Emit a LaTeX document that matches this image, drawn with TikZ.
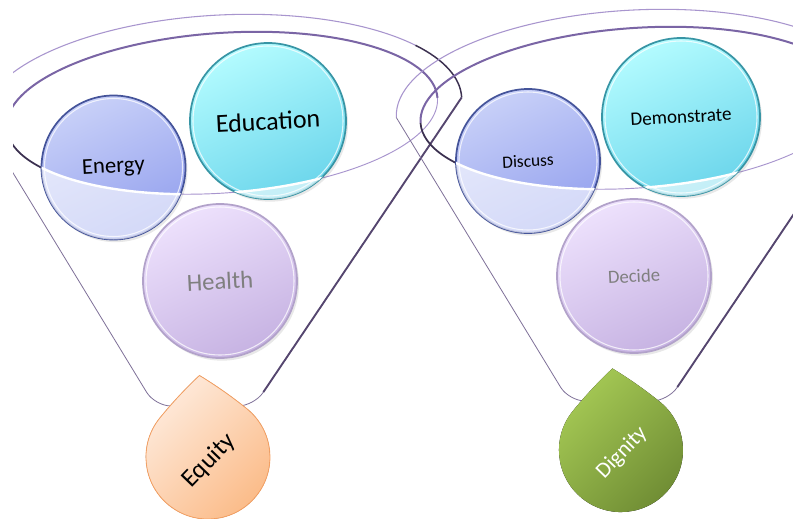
\documentclass[tikz,border=0pt]{standalone}
\usepackage{fontspec}
\setmainfont{Carlito}
\usetikzlibrary{calc,shadows}
\definecolor{rimlight}{HTML}{A895CE}
\definecolor{rimmid}{HTML}{7A65A5}
\definecolor{rimdark}{HTML}{3B3050}
\definecolor{conelt}{HTML}{7E7098}
\definecolor{conedk}{HTML}{55466F}
\definecolor{bluetop}{HTML}{C9D1F8}
\definecolor{bluebot}{HTML}{93A0EE}
\definecolor{blueedge}{HTML}{45549A}
\definecolor{cyantop}{HTML}{B4FCFF}
\definecolor{cyanbot}{HTML}{6BD5EB}
\definecolor{cyanedge}{HTML}{3895A5}
\definecolor{lavtop}{HTML}{EEE2FD}
\definecolor{lavbot}{HTML}{C6B2E2}
\definecolor{lavedge}{HTML}{B2A2CA}
\definecolor{greytext}{HTML}{7F7F7F}
\definecolor{ortop}{HTML}{FEEBDD}
\definecolor{orbot}{HTML}{FBBA86}
\definecolor{oredge}{HTML}{F5A062}
\definecolor{grtop}{HTML}{A6CA55}
\definecolor{grbot}{HTML}{6E8B33}
\tikzset{
  outerrim/.style={draw=rimlight, line width=0.8pt},
  outerdark/.style={draw=rimdark, line width=1.1pt},
  innerrim/.style={draw=rimmid, line width=1.5pt},
  innerlow/.style={draw=rimlight, line width=0.7pt},
  innerlowdark/.style={draw=rimdark, line width=1.3pt},
  conethin/.style={draw=conelt, line width=0.6pt},
  conethick/.style={draw=conedk, line width=1.4pt},
  ball/.style={circle, inner sep=0pt, line width=1.3pt, rotate=3,
    drop shadow={opacity=0.18, shadow xshift=1.5pt, shadow yshift=-2pt}},
  blueball/.style={ball, draw=blueedge, top color=bluetop, bottom color=bluebot, shading angle=25},
  cyanball/.style={ball, draw=cyanedge, top color=cyantop, bottom color=cyanbot, shading angle=25},
  lavball/.style={ball, draw=lavedge, top color=lavtop, bottom color=lavbot, shading angle=25, text=greytext},
  ballring/.style={draw=white, opacity=0.75, line width=0.8pt},
  droptext/.style={rotate=46, inner sep=0pt}
}
% funnel line art, drawn in the left funnel's coordinates
\newcommand{\funnelart}[1]{%
  \begin{scope}[rotate around={3:(222,110)}]
    \coordinate (#1ol) at (-18,110);
    \coordinate (#1or) at (462,110);
    \draw[outerrim] (#1ol) arc[start angle=180, end angle=325, x radius=240, y radius=95] coordinate (#1od);
    \draw[outerdark] (#1od) arc[start angle=325, end angle=360, x radius=240, y radius=95];
  \end{scope}
  \coordinate (#1bl) at (155,406);
  \coordinate (#1br) at (254,406);
  \draw[conethin, rounded corners=12pt] (#1ol) -- (#1bl) -- (#1br) -- (#1or);
  \draw[conethick] ($(#1br)!0.045!(#1or)$) -- (#1or);
  \begin{scope}[rotate around={4:(222,113)}]
    \coordinate (#1ml) at (6,113);
    \draw[innerrim] (#1ml) arc[start angle=180, end angle=360, x radius=216, y radius=80];
    \draw[innerlowdark] (#1ml) arc[start angle=180, end angle=128, x radius=216, y radius=80] coordinate (#1mm);
    \draw[innerlow] (#1mm) arc[start angle=128, end angle=0, x radius=216, y radius=80];
  \end{scope}
}
% lighter lower part of a ball, below the funnel mouth
\newcommand{\veil}[3]{%
  \begin{scope}
    \clip (#1.center) circle[radius=#2];
    \begin{scope}[shift={#3}, rotate around={4:(222,113)}]
      \fill[white, opacity=0.6] (6,113) arc[start angle=180, end angle=0, x radius=216, y radius=80] -- (438,460) -- (6,460) -- cycle;
      \draw[white, line width=1.8pt] (6,113) arc[start angle=180, end angle=0, x radius=216, y radius=80];
    \end{scope}
  \end{scope}
}
% teardrop outline, centred on the round part, tip up
\newcommand{\droppath}{(0,-82) .. controls (15.5,-70.2) and (30.1,-57.5) .. (43.8,-43.8)
  arc[start angle=-45, end angle=225, radius=62]
  .. controls (-30.1,-57.5) and (-15.5,-70.2) .. (0,-82) -- cycle}
\begin{document}
\begin{tikzpicture}[x=0.75pt, y=-0.75pt]
\useasboundingbox (0,0) rectangle (793,518);
\fill[white] (0,0) rectangle (793,518);
% funnels
\begin{scope}
  \clip (13,0) rectangle (793,518);
  \funnelart{L}
  \begin{scope}[shift={(414,-5)}]
    \funnelart{R}
  \end{scope}
\end{scope}
% left balls
\node[blueball, minimum size=108pt, font=\fontsize{17pt}{20pt}\selectfont] (energy) at (113.5,167.5) {Energy};
\node[cyanball, minimum size=117pt, font=\fontsize{19.5pt}{23pt}\selectfont] (education) at (268,121) {Education};
\node[lavball, minimum size=115.5pt, font=\fontsize{18.5pt}{22pt}\selectfont] (health) at (220,281) {Health};
% right balls
\node[blueball, minimum size=108pt, font=\fontsize{13pt}{16pt}\selectfont] (discuss) at (528,161) {Discuss};
\node[cyanball, minimum size=118.5pt, font=\fontsize{14.3pt}{17pt}\selectfont] (demonstrate) at (681,117) {Demonstrate};
\node[lavball, minimum size=115.5pt, font=\fontsize{14pt}{17pt}\selectfont] (decide) at (634,276) {Decide};
\veil{energy}{72}{(0,0)}
\veil{education}{78}{(0,0)}
\veil{discuss}{72}{(414,-5)}
\veil{demonstrate}{79}{(414,-5)}
\draw[ballring] (energy.center) circle[radius=69];
\draw[ballring] (education.center) circle[radius=75];
\draw[ballring] (health.center) circle[radius=74];
\draw[ballring] (discuss.center) circle[radius=69];
\draw[ballring] (demonstrate.center) circle[radius=76];
\draw[ballring] (decide.center) circle[radius=74];
% drops
\begin{scope}[shift={(208,457)}, rotate=6]
  \filldraw[draw=oredge, line width=0.6pt, top color=ortop, bottom color=orbot, shading angle=45] \droppath;
\end{scope}
\begin{scope}[shift={(621,450)}, rotate=6]
  \fill[top color=grtop, bottom color=grbot, shading angle=45] \droppath;
\end{scope}
\node[droptext, font=\fontsize{19pt}{23pt}\selectfont] (equity) at (209,461) {Equity};
\node[droptext, text=white, font=\fontsize{16.5pt}{20pt}\selectfont] (dignity) at (622,453) {Dignity};
\end{tikzpicture}
\end{document}
